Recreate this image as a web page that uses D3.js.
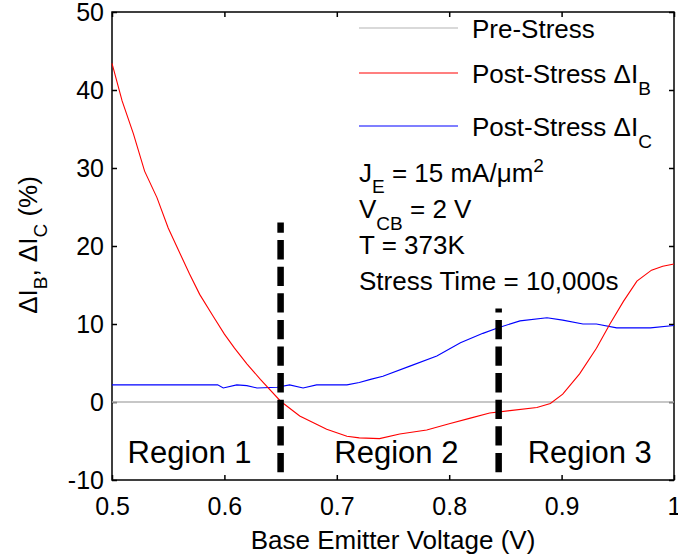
<!DOCTYPE html>
<html>
<head>
<meta charset="utf-8">
<script src="https://cdn.jsdelivr.net/npm/d3@7"></script>
<style>
  body { margin: 0; background: #fff; }
  text { font-family: Arial, "Liberation Sans", sans-serif; fill: #000; }
</style>
</head>
<body>
<div id="chart-container"></div>
<script>
// Données
const vbeIB = [0.500, 0.509, 0.519, 0.529, 0.540, 0.550, 0.569, 0.578, 0.590, 0.600, 0.609, 0.620, 0.632, 0.650, 0.667, 0.691, 0.709, 0.720, 0.738, 0.756, 0.780, 0.800, 0.818, 0.836, 0.854, 0.878, 0.890, 0.901, 0.916, 0.931, 0.943, 0.955, 0.967, 0.980, 0.990, 1.000];
const deltaIB = [43.4, 38.6, 34.4, 29.6, 26.2, 22.3, 16.4, 13.8, 11.0, 8.7, 6.9, 4.9, 2.9, 0.1, -1.8, -3.5, -4.4, -4.6, -4.7, -4.1, -3.6, -2.8, -2.1, -1.4, -1.1, -0.7, -0.2, 1.0, 3.6, 6.9, 10.0, 12.9, 15.5, 16.9, 17.4, 17.7];

const vbeIC = [0.500, 0.594, 0.599, 0.611, 0.620, 0.629, 0.647, 0.658, 0.670, 0.682, 0.709, 0.720, 0.730, 0.741, 0.765, 0.789, 0.810, 0.830, 0.843, 0.863, 0.887, 0.901, 0.919, 0.931, 0.949, 0.979, 1.000];
const deltaIC = [2.2, 2.2, 1.8, 2.2, 2.1, 1.8, 1.9, 2.2, 1.8, 2.2, 2.2, 2.5, 2.9, 3.3, 4.6, 5.9, 7.6, 8.8, 9.5, 10.4, 10.8, 10.5, 10.0, 10.0, 9.5, 9.5, 9.8];

const preStressX = [0.5, 1.0];
const preStressY = [0, 0];

const xTicks = [0.5, 0.6, 0.7, 0.8, 0.9, 1];
const yTicks = [-10, 0, 10, 20, 30, 40, 50];

// Séparateurs de régions : x, y bas, y haut
const dividerX = [0.65, 0.844];
const dividerLow = [-9, -9];
const dividerHigh = [23, 12];

const regionNames = ["Region 1", "Region 2", "Region 3"];
const regionX = [0.569, 0.753, 0.925];

// Dimensions
const width = 678;
const height = 558;
const margin = { top: 12, right: 4, bottom: 78, left: 112 };
const innerW = width - margin.left - margin.right;
const innerH = height - margin.top - margin.bottom;

const svg = d3.select("#chart-container")
    .append("svg")
    .attr("width", width)
    .attr("height", height)
    .style("display", "block");

const g = svg.append("g")
    .attr("transform", `translate(${margin.left},${margin.top})`);

const x = d3.scaleLinear().domain([0.5, 1]).range([0, innerW]);
const y = d3.scaleLinear().domain([-10, 50]).range([innerH, 0]);

// Axes (graduations vers l'intérieur, façon MATLAB)
const styleAxis = sel => {
    sel.select(".domain").remove();
    sel.selectAll(".tick line").attr("stroke", "#000").attr("stroke-width", 1.5);
    sel.selectAll(".tick text").style("font-size", "25px").attr("fill", "#000");
};

g.append("g")
    .attr("transform", `translate(0,${innerH})`)
    .call(d3.axisBottom(x).tickValues(xTicks).tickFormat(d => String(d)).tickSizeInner(-5).tickSizeOuter(0).tickPadding(17))
    .call(styleAxis);

g.append("g")
    .call(d3.axisTop(x).tickValues(xTicks).tickFormat("").tickSizeInner(-5).tickSizeOuter(0))
    .call(styleAxis);

g.append("g")
    .call(d3.axisLeft(y).tickValues(yTicks).tickFormat(d => String(d)).tickSizeInner(-5).tickSizeOuter(0).tickPadding(8))
    .call(styleAxis);

g.append("g")
    .attr("transform", `translate(${innerW},0)`)
    .call(d3.axisRight(y).tickValues(yTicks).tickFormat("").tickSizeInner(-5).tickSizeOuter(0))
    .call(styleAxis);

// Cadre
g.append("rect")
    .attr("x", 0).attr("y", 0)
    .attr("width", innerW).attr("height", innerH)
    .attr("fill", "none")
    .attr("stroke", "#000")
    .attr("stroke-width", 1.5);

// Courbes
const line = d3.line().x(d => x(d[0])).y(d => y(d[1]));

g.append("path")
    .datum(d3.zip(preStressX, preStressY))
    .attr("d", line)
    .attr("fill", "none")
    .attr("stroke", "#b4b4b4")
    .attr("stroke-width", 1.3);

g.append("path")
    .datum(d3.zip(vbeIC, deltaIC))
    .attr("d", line)
    .attr("fill", "none")
    .attr("stroke", "#0000ff")
    .attr("stroke-width", 1.1);

g.append("path")
    .datum(d3.zip(vbeIB, deltaIB))
    .attr("d", line)
    .attr("fill", "none")
    .attr("stroke", "#ff0000")
    .attr("stroke-width", 1.1);

// Séparateurs en tirets (tracés du bas vers le haut)
g.selectAll(".divider")
    .data(dividerX.map((d, i) => ({ x: d, lo: dividerLow[i], hi: dividerHigh[i] })))
    .enter()
    .append("line")
    .attr("class", "divider")
    .attr("x1", d => x(d.x)).attr("x2", d => x(d.x))
    .attr("y1", d => y(d.lo)).attr("y2", d => y(d.hi))
    .attr("stroke", "#000")
    .attr("stroke-width", 6.5)
    .attr("stroke-dasharray", "19.3,7.3");

// Noms des régions
g.selectAll(".region")
    .data(regionNames)
    .enter()
    .append("text")
    .attr("class", "region")
    .attr("x", (d, i) => x(regionX[i]))
    .attr("y", innerH - 17)
    .attr("text-anchor", "middle")
    .style("font-size", "31px")
    .text(d => d);

// Légende
const legend = [
    { color: "#b4b4b4", y: 28, main: "Pre-Stress", sub: "" },
    { color: "#ff0000", y: 73, main: "Post-Stress \u0394I", sub: "B" },
    { color: "#0000ff", y: 126, main: "Post-Stress \u0394I", sub: "C" }
];

legend.forEach(d => {
    svg.append("line")
        .attr("x1", 359).attr("x2", 458)
        .attr("y1", d.y).attr("y2", d.y)
        .attr("stroke", d.color)
        .attr("stroke-width", 1.1);
    const t = svg.append("text")
        .attr("x", 472)
        .attr("y", d.y + 10)
        .style("font-size", "26px");
    t.append("tspan").text(d.main);
    if (d.sub) t.append("tspan").attr("dy", 12).style("font-size", "19px").text(d.sub);
});

// Conditions de stress
const ann = svg.append("g").style("font-size", "26px");

const je = ann.append("text").attr("x", 359).attr("y", 182);
je.append("tspan").text("J");
je.append("tspan").attr("dy", 11).style("font-size", "19px").text("E");
je.append("tspan").attr("dy", -11).text(" = 15 mA/\u03bcm");
je.append("tspan").attr("dy", -10).style("font-size", "19px").text("2");

const vcb = ann.append("text").attr("x", 359).attr("y", 218);
vcb.append("tspan").text("V");
vcb.append("tspan").attr("dy", 12).style("font-size", "19px").text("CB");
vcb.append("tspan").attr("dy", -12).text(" = 2 V");

ann.append("text").attr("x", 359).attr("y", 254).text("T = 373K");
ann.append("text").attr("x", 359).attr("y", 290).text("Stress Time = 10,000s");

// Titres des axes
svg.append("text")
    .attr("x", margin.left + innerW / 2)
    .attr("y", 549)
    .attr("text-anchor", "middle")
    .style("font-size", "26px")
    .text("Base Emitter Voltage (V)");

const yl = svg.append("text")
    .attr("transform", "translate(37,245) rotate(-90)")
    .attr("text-anchor", "middle")
    .style("font-size", "26px");
yl.append("tspan").text("\u0394I");
yl.append("tspan").attr("dy", 10).style("font-size", "19px").text("B");
yl.append("tspan").attr("dy", -10).text(", \u0394I");
yl.append("tspan").attr("dy", 10).style("font-size", "19px").text("C");
yl.append("tspan").attr("dy", -10).text(" (%)");
</script>
</body>
</html>
